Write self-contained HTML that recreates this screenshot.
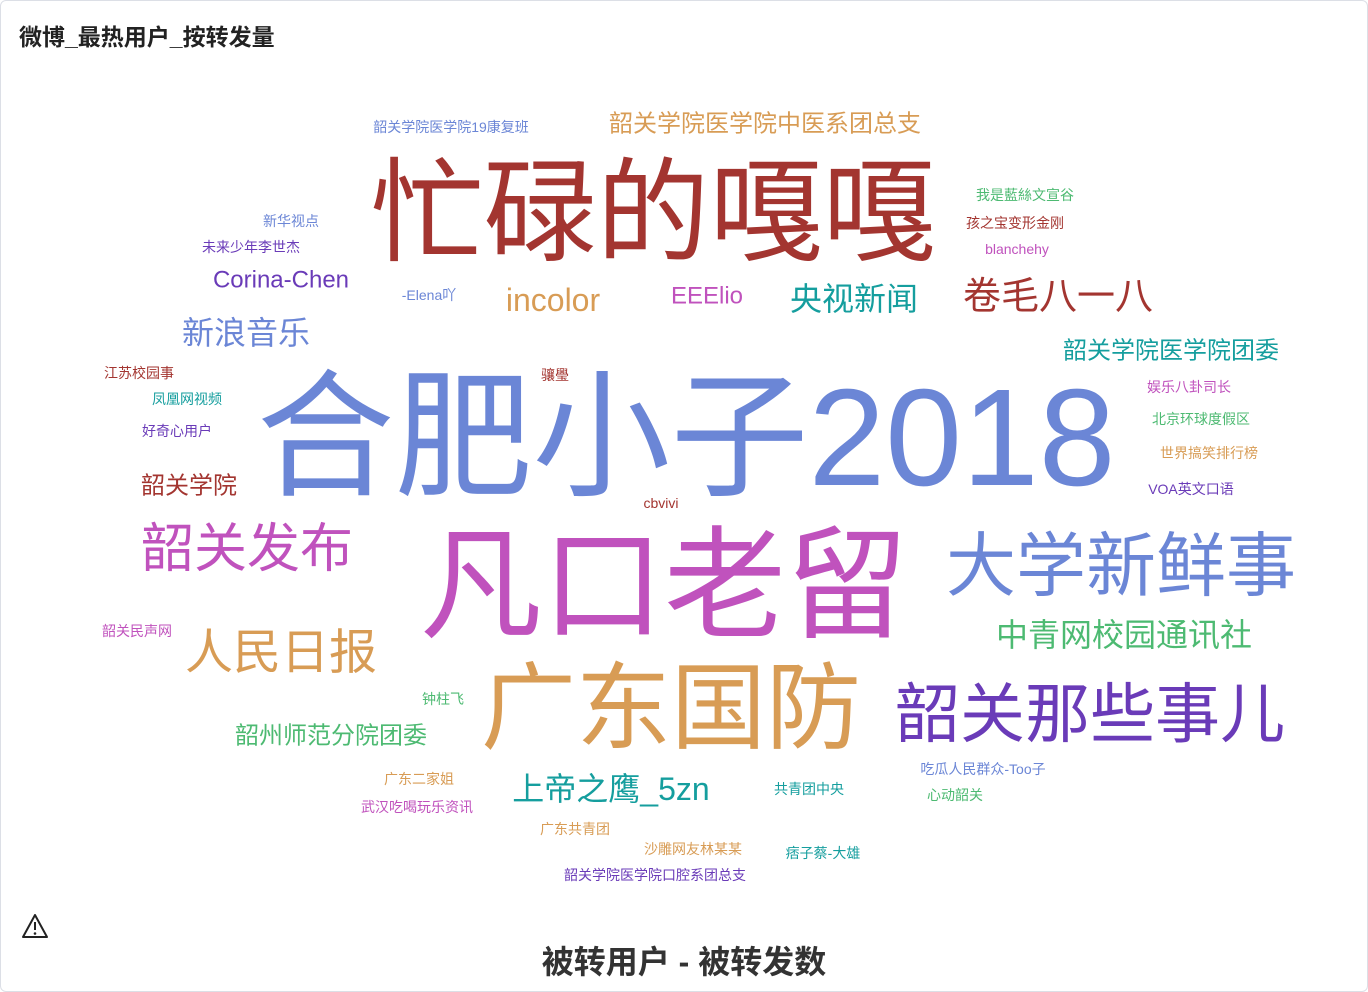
<!DOCTYPE html>
<html><head><meta charset="utf-8">
<style>
html,body{margin:0;padding:0;background:#fff;}
#wrap{position:relative;width:1366px;height:990px;border:1px solid #dcdfe6;border-radius:6px;overflow:hidden;font-family:"Liberation Sans","Noto Sans CJK SC",sans-serif;}
#title{position:absolute;left:18px;top:17px;font-size:23px;font-weight:bold;color:#222;}
#xtitle{position:absolute;left:0;width:1366px;top:936px;text-align:center;font-size:32px;font-weight:bold;color:#333;}
#warn{position:absolute;left:20px;top:912px;}
svg text{font-family:"Liberation Sans","Noto Sans CJK SC",sans-serif;}
</style></head><body>
<div id="wrap">
<div id="title">微博_最热用户_按转发量</div>
<svg id="warn" width="28" height="26" viewBox="0 0 28 26"><path d="M14 2 L26 24 L2 24 Z" fill="none" stroke="#222" stroke-width="2" stroke-linejoin="round"/><line x1="14" y1="9" x2="14" y2="17" stroke="#222" stroke-width="2"/><circle cx="14" cy="20.5" r="1.3" fill="#222"/></svg>
<svg id="cloud" width="1366" height="990" style="position:absolute;left:0;top:0"></svg>
<div id="xtitle">被转用户 - 被转发数</div>
</div>
<script>
const words = ["合肥小子2018","凡口老留","忙碌的嘎嘎","广东国防","大学新鲜事","韶关那些事儿","韶关发布","人民日报","卷毛八一八","新浪音乐","中青网校园通讯社","央视新闻","incolor","上帝之鹰_5zn","EEElio","Corina-Chen","韶关学院医学院团委","韶州师范分院团委","韶关学院","韶关学院医学院中医系团总支","韶关学院医学院19康复班","新华视点","未来少年李世杰","-Elena吖","我是藍絲文宣谷","孩之宝变形金刚","blanchehy","江苏校园事","凤凰网视频","好奇心用户","骧璺","娱乐八卦司长","北京环球度假区","世界搞笑排行榜","VOA英文口语","cbvivi","韶关民声网","钟柱飞","广东二家姐","武汉吃喝玩乐资讯","广东共青团","共青团中央","吃瓜人民群众-Too子","心动韶关","沙雕网友林某某","痞子蔡-大雄","韶关学院医学院口腔系团总支"];
const values = [138,122,113,95,70,65,53,48,38,32,32,32,32,32,24,24,24,24,24,24,14,14,14,14,14,14,14,14,14,14,14,14,14,14,14,14,14,14,14,14,14,14,14,14,14,14,14];
const colorIdx = [0,1,2,3,0,4,1,3,2,0,6,5,3,5,1,4,5,6,2,3,0,0,4,0,6,2,1,2,5,4,2,1,6,3,4,2,1,6,3,1,3,5,0,6,3,5,4];
const layoutX = [685,663,652,670,1120,1089,246,280,1057,245,1123,853,552,610,706,280,1170,330,188,764,450,290,250,428,1024,1014,1016,138,186,176,554,1188,1200,1208,1190,660,136,442,418,416,574,808,982,954,692,822,654];
const layoutY = [437,585,212,708,565,713,548,652,296,332,634,298,299,788,295,279,350,735,485,123,126,220,246,294,194,222,248,372,398,430,374,386,418,452,488,502,630,698,778,806,828,788,768,794,848,852,874];
const palette = ["#6b86d6","#c052bd","#a33530","#d89c55","#6a3bb8","#159e9e","#4dba72"];
const vMin = Math.min(...values), vMax = Math.max(...values);
function sizeScale(v){ return 14 + (v - vMin) / (vMax - vMin) * (138 - 14); }
const svg = document.getElementById('cloud');
words.forEach((w,i)=>{
  const t = document.createElementNS('http://www.w3.org/2000/svg','text');
  
  
  t.setAttribute('x', layoutX[i]);
  t.setAttribute('y', layoutY[i]);
  t.setAttribute('text-anchor','middle');
  t.setAttribute('dominant-baseline','central');
  t.setAttribute('font-size', sizeScale(values[i]).toFixed(1));
  t.setAttribute('fill', palette[colorIdx[i]]);
  t.textContent = w;
  svg.appendChild(t);
});
</script>
</body></html>
